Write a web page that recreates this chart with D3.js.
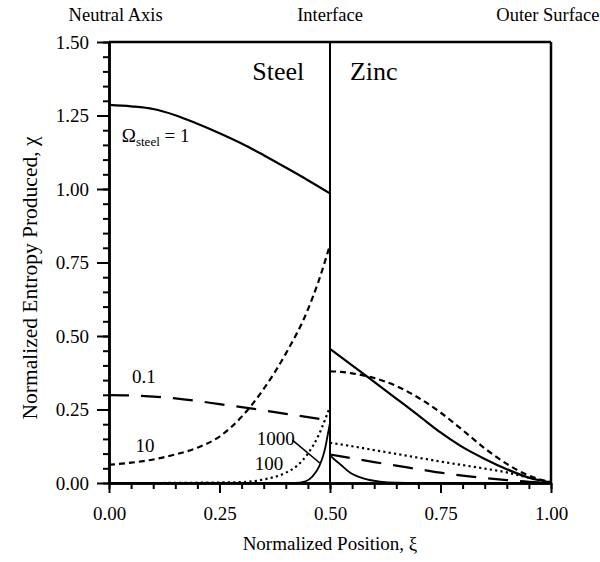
<!DOCTYPE html>
<html><head><meta charset="utf-8">
<script src="https://cdn.jsdelivr.net/npm/d3@7"></script>
<style>
body{margin:0;background:#fff;}
svg{display:block;}
</style></head>
<body>
<svg id="c" width="600" height="562"></svg>
<script>
// ---- data ----
const xTicks = [0, 0.25, 0.5, 0.75, 1.0];
const yTicks = [0, 0.25, 0.5, 0.75, 1.0, 1.25, 1.5];
const topLabels = ["Neutral Axis", "Interface", "Outer Surface"];
const topLabelPos = [0.015, 0.5, 0.993];

// steel side (0 <= xi <= 0.5)
const steelXi = [0, 0.05, 0.1, 0.15, 0.2, 0.25, 0.3, 0.35, 0.4, 0.45, 0.5];
const steelOmega1   = [1.286, 1.281, 1.272, 1.251, 1.222, 1.19, 1.155, 1.115, 1.073, 1.03, 0.985];
const steelOmega01  = [0.299, 0.298, 0.294, 0.288, 0.279, 0.268, 0.258, 0.247, 0.235, 0.224, 0.212];
const steel10Xi     = [0, 0.05, 0.1, 0.15, 0.2, 0.25, 0.3, 0.35, 0.4, 0.45, 0.475, 0.5];
const steelOmega10  = [0.062, 0.069, 0.08, 0.097, 0.12, 0.158, 0.225, 0.32, 0.44, 0.59, 0.69, 0.81];
const steel100Xi    = [0, 0.1, 0.2, 0.3, 0.35, 0.4, 0.425, 0.45, 0.475, 0.49, 0.5];
const steelOmega100 = [0, 0, 0.001, 0.003, 0.012, 0.035, 0.058, 0.1, 0.165, 0.22, 0.26];
const steel1000Xi   = [0, 0.3, 0.42, 0.445, 0.46, 0.475, 0.485, 0.49, 0.495, 0.5];
const steelOmega1000= [0, 0, 0, 0.006, 0.022, 0.055, 0.095, 0.125, 0.165, 0.205];

// zinc side (0.5 <= xi <= 1)
const zincXi = [0.5, 0.55, 0.6, 0.65, 0.7, 0.75, 0.8, 0.85, 0.9, 0.95, 1.0];
const zincOmega1   = [0.456, 0.4, 0.344, 0.287, 0.23, 0.172, 0.122, 0.082, 0.047, 0.018, 0.002];
const zincOmega01  = [0.097, 0.084, 0.071, 0.059, 0.047, 0.035, 0.025, 0.017, 0.01, 0.004, 0.001];
const zinc10Xi     = [0.5, 0.525, 0.55, 0.575, 0.6, 0.65, 0.7, 0.75, 0.8, 0.85, 0.9, 0.95, 1.0];
const zincOmega10  = [0.38, 0.378, 0.373, 0.366, 0.357, 0.33, 0.29, 0.24, 0.18, 0.118, 0.065, 0.025, 0.003];
const zincOmega100 = [0.137, 0.125, 0.112, 0.099, 0.086, 0.073, 0.061, 0.049, 0.036, 0.018, 0.002];
const zinc1000Xi   = [0.5, 0.51, 0.523, 0.545, 0.575, 0.613, 0.65, 0.7, 1.0];
const zincOmega1000= [0.095, 0.08, 0.064, 0.036, 0.016, 0.005, 0.001, 0, 0];

// annotation labels (data coordinates)
const curveLabels = ["0.1", "10", "1000", "100"];
const curveLabelXi = [0.052, 0.06, 0.334, 0.33];
const curveLabelChi = [0.34, 0.107, 0.129, 0.043];
const leaderXi = [0.415, 0.477];
const leaderChi = [0.146, 0.068];

// ---- layout ----
const FONT = "Times New Roman, Liberation Serif, DejaVu Serif, serif";
const svg = d3.select("#c");
const L = 109, R = 551, T = 42, B = 483;
const x = d3.scaleLinear().domain([0, 1]).range([L, R]);
const y = d3.scaleLinear().domain([0, 1.5]).range([B, T]);
const fmt = d3.format(".2f");

const yMinor = d3.range(0, 1.5001, 0.05).map(v => +v.toFixed(2));
const xMinor = d3.range(0, 1.0001, 0.05).map(v => +v.toFixed(2));

const gyMinor = svg.append("g").attr("transform", `translate(${L},0)`)
  .call(d3.axisLeft(y).tickValues(yMinor).tickSize(6).tickSizeOuter(0).tickFormat(""));
const gy = svg.append("g").attr("transform", `translate(${L},0)`)
  .call(d3.axisLeft(y).tickValues(yTicks).tickSize(12).tickSizeOuter(0).tickPadding(8).tickFormat(fmt));
const gxMinor = svg.append("g").attr("transform", `translate(0,${B})`)
  .call(d3.axisBottom(x).tickValues(xMinor).tickSize(6).tickSizeOuter(0).tickFormat(""));
const gx = svg.append("g").attr("transform", `translate(0,${B})`)
  .call(d3.axisBottom(x).tickValues(xTicks).tickSize(10).tickSizeOuter(0).tickPadding(14).tickFormat(fmt));

[gyMinor, gy, gxMinor, gx].forEach(g => {
  g.attr("font-family", FONT).attr("font-size", 19);
  g.selectAll("path.domain").attr("stroke", "#000").attr("stroke-width", 2.5);
  g.selectAll(".tick line").attr("stroke", "#000").attr("stroke-width", 2);
  g.selectAll("text").attr("font-family", FONT).attr("font-size", 19).attr("fill", "#000");
});
gyMinor.selectAll("text").remove();
gxMinor.selectAll("text").remove();
gx.selectAll("text").attr("dy", "0.71em");

// top and right frame
svg.append("line").attr("x1", x(0)).attr("x2", x(1)).attr("y1", y(1.5)).attr("y2", y(1.5))
  .attr("stroke", "#000").attr("stroke-width", 2.5);
svg.append("line").attr("x1", x(1)).attr("x2", x(1)).attr("y1", y(1.5)).attr("y2", y(0))
  .attr("stroke", "#000").attr("stroke-width", 2.5);
svg.append("line").attr("x1", x(0.5)).attr("x2", x(0.5)).attr("y1", y(1.5)).attr("y2", y(0))
  .attr("stroke", "#000").attr("stroke-width", 2);

// ---- curves ----
const line = d3.line().x(d => x(d[0])).y(d => y(d[1])).curve(d3.curveMonotoneX);
const zip = (a, b) => a.map((v, i) => [v, b[i]]);
const series = [
  {xs: steelXi, ys: steelOmega1, dash: null, w: 2.2},
  {xs: zincXi, ys: zincOmega1, dash: null, w: 2.2},
  {xs: steelXi, ys: steelOmega01, dash: "20,12", w: 2.2},
  {xs: zincXi, ys: zincOmega01, dash: "20,12", w: 2.2},
  {xs: steel10Xi, ys: steelOmega10, dash: "6,4", w: 2.2},
  {xs: zinc10Xi, ys: zincOmega10, dash: "6,4", w: 2.2},
  {xs: steel100Xi, ys: steelOmega100, dash: "2.2,3.2", w: 2.2},
  {xs: zincXi, ys: zincOmega100, dash: "2.2,3.2", w: 2.2},
  {xs: steel1000Xi, ys: steelOmega1000, dash: null, w: 1.8},
  {xs: zinc1000Xi, ys: zincOmega1000, dash: null, w: 1.8}
];
series.forEach(s => {
  svg.append("path").datum(zip(s.xs, s.ys)).attr("d", line)
    .attr("fill", "none").attr("stroke", "#000").attr("stroke-width", s.w)
    .attr("stroke-dasharray", s.dash);
});
svg.append("line").attr("x1", x(leaderXi[0])).attr("y1", y(leaderChi[0]))
  .attr("x2", x(leaderXi[1])).attr("y2", y(leaderChi[1]))
  .attr("stroke", "#000").attr("stroke-width", 1.6);

// ---- text ----
function txt(xp, yp, size, t, anchor) {
  const e = svg.append("text").attr("x", xp).attr("y", yp)
    .attr("text-anchor", anchor || "start")
    .attr("font-family", FONT).attr("font-size", size).attr("fill", "#000");
  if (t !== null) e.text(t);
  return e;
}
curveLabels.forEach((t, i) => txt(x(curveLabelXi[i]), y(curveLabelChi[i]), 19, t));

const om = txt(x(0.029), y(1.161), 19, null);
om.append("tspan").text("Ω");
om.append("tspan").attr("font-size", 13).attr("dy", 4).text("steel");
om.append("tspan").attr("dy", -4).text(" = 1");

txt(x(0.442), 80, 26, "Steel", "end");
txt(x(0.545), 80, 26, "Zinc");

topLabels.forEach((t, i) => txt(x(topLabelPos[i]), 21, 18.5, t, "middle"));

txt((L + R) / 2, 550, 19, "Normalized Position, ξ", "middle");
txt(0, 0, 21.5, "Normalized Entropy Produced, χ", "middle").attr("transform", "translate(37,278) rotate(-90)");
</script>
</body></html>
